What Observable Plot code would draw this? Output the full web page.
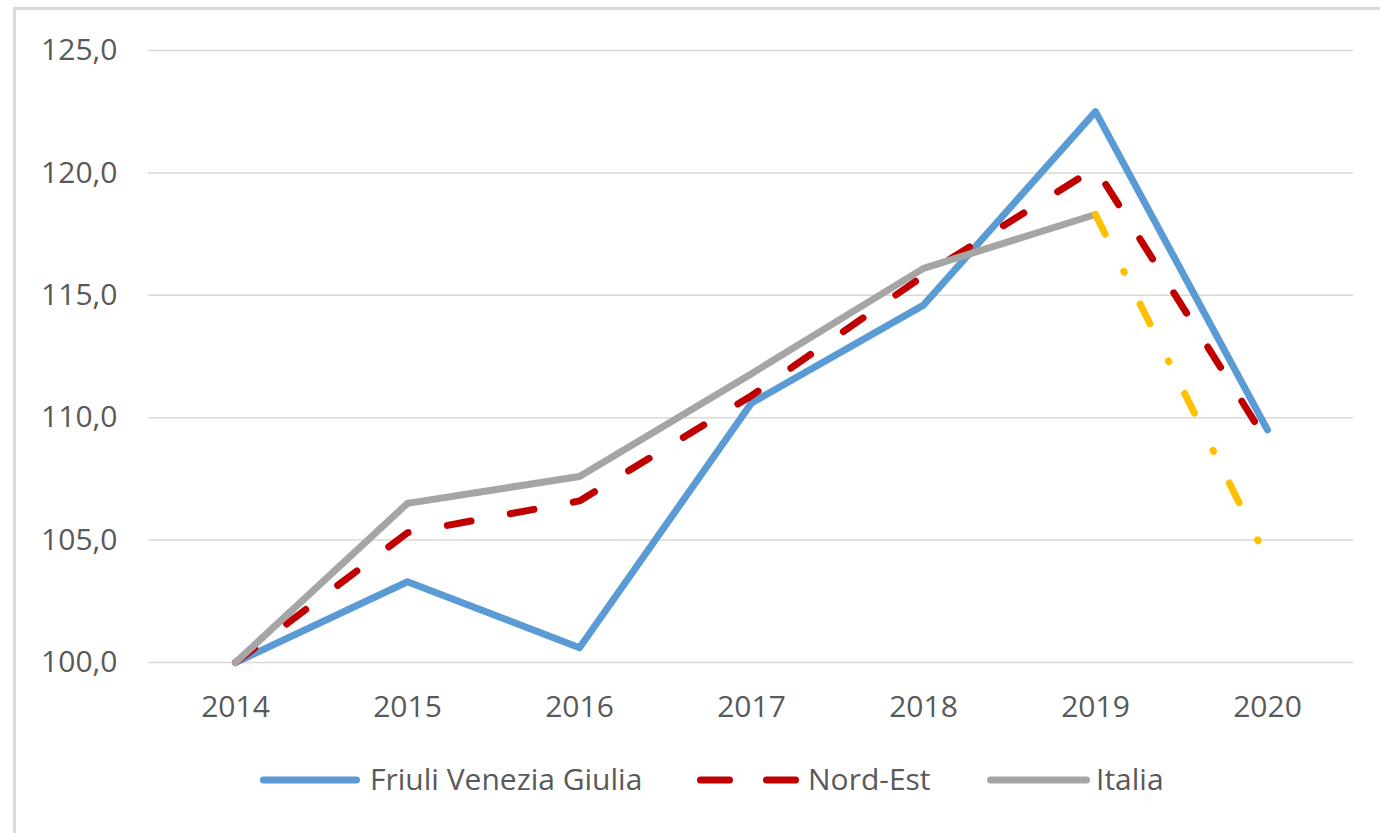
<!DOCTYPE html>
<html>
<head>
<meta charset="utf-8">
<script src="https://cdn.jsdelivr.net/npm/d3@7"></script>
<script src="https://cdn.jsdelivr.net/npm/@observablehq/plot@0.6"></script>
<style>
  html, body { margin: 0; padding: 0; background: #fff; overflow: hidden; }
  body { width: 1380px; height: 833px; position: relative; font-family: "Open Sans", sans-serif; }
  #frame { position: absolute; left: 13px; top: 7px; width: 1400px; height: 900px; border: 3px solid #D9D9D9; box-sizing: border-box; }
  #chart { position: absolute; left: 0; top: 0; }
  .leg { position: absolute; font-size: 30px; color: #595959; line-height: 1; white-space: nowrap; }
  .sw { position: absolute; }
</style>
</head>
<body>
<div id="frame"></div>
<div id="chart"></div>
<div id="legend"></div>
<script>
// ---- data ----
const years = ["2014", "2015", "2016", "2017", "2018", "2019", "2020"];
const friuli = [100.0, 103.3, 100.6, 110.6, 114.6, 122.5, 109.5];
const nordEst = [100.0, 105.3, 106.6, 110.9, 115.8, 120.2, 109.0];
const italia = [100.0, 106.5, 107.6, 111.8, 116.1, 118.3];
const italiaStimaYears = ["2019", "2020"];
const italiaStima = [118.3, 104.2];
const yTicks = [100, 105, 110, 115, 120, 125];
const seriesNames = ["Friuli Venezia Giulia", "Nord-Est", "Italia"];
const colors = {friuli: "#5B9BD5", nordEst: "#C00000", italia: "#A5A5A5", stima: "#FFC000"};

const toRows = (xs, vs) => vs.map((v, i) => ({year: xs[i], value: v}));
const fRows = toRows(years, friuli);
const nRows = toRows(years, nordEst);
const iRows = toRows(years, italia);
const sRows = toRows(italiaStimaYears, italiaStima);

const lineOpts = {x: "year", y: "value", strokeWidth: 7, strokeLinecap: "round", strokeLinejoin: "round"};

const chart = Plot.plot({
  width: 1380,
  height: 740,
  marginLeft: 148,
  marginRight: 27,
  marginTop: 50,
  marginBottom: 78,
  style: {fontFamily: "'Open Sans', sans-serif", fontSize: "30px", color: "#595959", background: "transparent"},
  x: {type: "point", domain: years, padding: 0.5, label: null},
  y: {domain: [100, 125], ticks: yTicks, label: null},
  marks: [
    Plot.gridY(yTicks, {stroke: "#D9D9D9", strokeOpacity: 1, strokeWidth: 1.5}),
    Plot.axisY({ticks: yTicks, tickSize: 0, tickPadding: 31, tickFormat: d => d.toFixed(1).replace(".", ","), fill: "#595959", fontSize: 30}),
    Plot.axisX({tickSize: 0, tickPadding: 33, fill: "#595959", fontSize: 30}),
    Plot.line(fRows, {...lineOpts, stroke: colors.friuli}),
    Plot.line(nRows, {...lineOpts, stroke: colors.nordEst, strokeDasharray: "24,40"}),
    Plot.line(iRows, {...lineOpts, stroke: colors.italia}),
    Plot.line(sRows, {...lineOpts, stroke: colors.stima, strokeDasharray: "22,41.5,1,35.5"})
  ]
});
document.getElementById("chart").appendChild(chart);

// ---- legend ----
const legend = document.getElementById("legend");
const legendY = 780;
function swatch(left, width, color, dashed) {
  const ns = "http://www.w3.org/2000/svg";
  const svg = document.createElementNS(ns, "svg");
  svg.setAttribute("width", width);
  svg.setAttribute("height", 14);
  svg.setAttribute("class", "sw");
  svg.style.left = left + "px";
  svg.style.top = (legendY - 7) + "px";
  const segs = dashed ? [[3.5, 32.5], [width - 32.5, width - 3.5]] : [[3.5, width - 3.5]];
  for (const [a, b] of segs) {
    const l = document.createElementNS(ns, "line");
    l.setAttribute("x1", a); l.setAttribute("x2", b);
    l.setAttribute("y1", 7); l.setAttribute("y2", 7);
    l.setAttribute("stroke", color);
    l.setAttribute("stroke-width", 7);
    l.setAttribute("stroke-linecap", "round");
    svg.appendChild(l);
  }
  legend.appendChild(svg);
}
function label(left, text) {
  const d = document.createElement("div");
  d.className = "leg";
  d.textContent = text;
  d.style.left = left + "px";
  d.style.top = (legendY - 16) + "px";
  legend.appendChild(d);
}
swatch(260, 100, colors.friuli, false);
label(370, seriesNames[0]);
swatch(697, 102, colors.nordEst, true);
label(808, seriesNames[1]);
swatch(987, 103, colors.italia, false);
label(1096, seriesNames[2]);
</script>
</body>
</html>
